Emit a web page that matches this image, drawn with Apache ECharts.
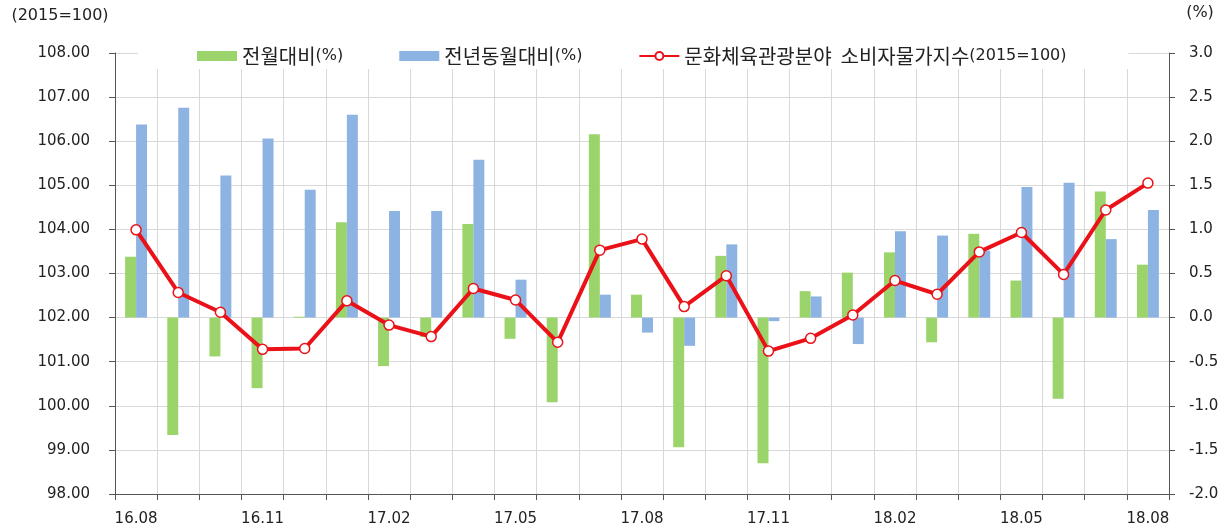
<!DOCTYPE html>
<html>
<head>
<meta charset="utf-8">
<script src="https://cdn.jsdelivr.net/npm/echarts@6/dist/echarts.min.js"></script>
<style>html,body{margin:0;padding:0;background:#fff}#c{width:1229px;height:531px}</style>
</head>
<body>
<div id="c"></div>
<script>
const categories = ['16.08','16.09','16.10','16.11','16.12','17.01','17.02','17.03','17.04','17.05','17.06','17.07','17.08','17.09','17.10','17.11','17.12','18.01','18.02','18.03','18.04','18.05','18.06','18.07','18.08'];
const momChange = [0.69,-1.33,-0.44,-0.80,0.01,1.08,-0.55,-0.22,1.06,-0.24,-0.96,2.08,0.26,-1.47,0.70,-1.65,0.30,0.51,0.74,-0.28,0.95,0.42,-0.92,1.43,0.60];
const yoyChange = [2.19,2.38,1.61,2.03,1.45,2.30,1.21,1.21,1.79,0.43,0.00,0.26,-0.17,-0.32,0.83,-0.04,0.24,-0.30,0.98,0.93,0.76,1.48,1.53,0.89,1.22];
const cpiIndex = [103.99,102.57,102.12,101.28,101.30,102.38,101.83,101.57,102.66,102.40,101.44,103.53,103.78,102.25,102.95,101.24,101.53,102.06,102.84,102.53,103.49,103.93,102.98,104.44,105.05];
const leftAxisName = '(2015=100)';
const rightAxisName = '(%)';
const seriesNames = ['전월대비(%)','전년동월대비(%)','문화체육관광분야  소비자물가지수(2015=100)'];

const numFont = 'DejaVu Sans';
const krFont = '"Noto Sans CJK KR", "Noto Sans", sans-serif';

function legendFmt(name) {
  const m = name.match(/^([^(]*)(\(.*\))$/);
  if (!m) return '{k|' + name + '}';
  return '{k|' + m[1] + '}{p|' + m[2] + '}';
}

const chart = echarts.init(document.getElementById('c'));
chart.setOption({
  animation: false,
  backgroundColor: '#fff',
  grid: {left: 115, right: 60, top: 53, bottom: 37},
  legend: {
    top: 41, left: 138, itemGap: 56,
    backgroundColor: '#fff',
    padding: [5, 62, 3, 59],
    itemWidth: 40, itemHeight: 10,
    formatter: legendFmt,
    textStyle: {
      fontFamily: krFont, fontSize: 20, color: '#222',
      rich: {
        k: {fontFamily: krFont, fontSize: 20, color: '#222', lineHeight: 22},
        p: {fontFamily: numFont, fontSize: 16, color: '#222', lineHeight: 22}
      }
    },
    data: [
      {name: seriesNames[0], icon: 'rect'},
      {name: seriesNames[1], icon: 'rect'},
      {name: seriesNames[2]}
    ]
  },
  xAxis: {
    type: 'category',
    data: categories,
    boundaryGap: true,
    axisLine: {onZero: false, lineStyle: {color: '#555', width: 1}},
    axisTick: {show: true, interval: 0, length: 6, lineStyle: {color: '#555'}},
    axisLabel: {interval: 2, fontFamily: numFont, fontSize: 15, color: '#222', margin: 18},
    splitLine: {show: true, interval: 0, lineStyle: {color: '#d9d9d9', width: 1}}
  },
  yAxis: [
    {
      type: 'value', min: 98, max: 108, interval: 1,
      position: 'left',
      name: leftAxisName,
      nameLocation: 'end', nameGap: 29,
      nameTextStyle: {fontFamily: numFont, fontSize: 16, color: '#222', align: 'center', padding: [0, 0, 0, -110]},
      axisLine: {show: true, lineStyle: {color: '#555'}},
      axisTick: {show: true, inside: false, length: 6, lineStyle: {color: '#555'}},
      axisLabel: {fontFamily: numFont, fontSize: 15, color: '#222', margin: 25, formatter: v => v.toFixed(2)},
      splitLine: {show: true, lineStyle: {color: '#d9d9d9', width: 1}}
    },
    {
      type: 'value', min: -2, max: 3, interval: 0.5,
      position: 'right',
      name: rightAxisName,
      nameLocation: 'end', nameGap: 32,
      nameTextStyle: {fontFamily: numFont, fontSize: 16, color: '#222', align: 'center', padding: [0, 0, 0, 62]},
      axisLine: {show: true, lineStyle: {color: '#555'}},
      axisTick: {show: true, inside: false, length: 6, lineStyle: {color: '#555'}},
      axisLabel: {fontFamily: numFont, fontSize: 15, color: '#222', margin: 20, formatter: v => v.toFixed(1)},
      splitLine: {show: false}
    }
  ],
  series: [
    {
      name: seriesNames[0], type: 'bar', yAxisIndex: 1, data: momChange,
      barGap: '0%', barCategoryGap: '48%',
      itemStyle: {color: '#9bd46a'}
    },
    {
      name: seriesNames[1], type: 'bar', yAxisIndex: 1, data: yoyChange,
      barGap: '0%', barCategoryGap: '48%',
      itemStyle: {color: '#8db3e2'}
    },
    {
      name: seriesNames[2], type: 'line', yAxisIndex: 0, data: cpiIndex,
      symbol: 'circle', symbolSize: 10,
      lineStyle: {color: '#ea1218', width: 4},
      itemStyle: {color: '#fff', borderColor: '#ea1218', borderWidth: 1.5},
      z: 5
    }
  ]
});
</script>
</body>
</html>
